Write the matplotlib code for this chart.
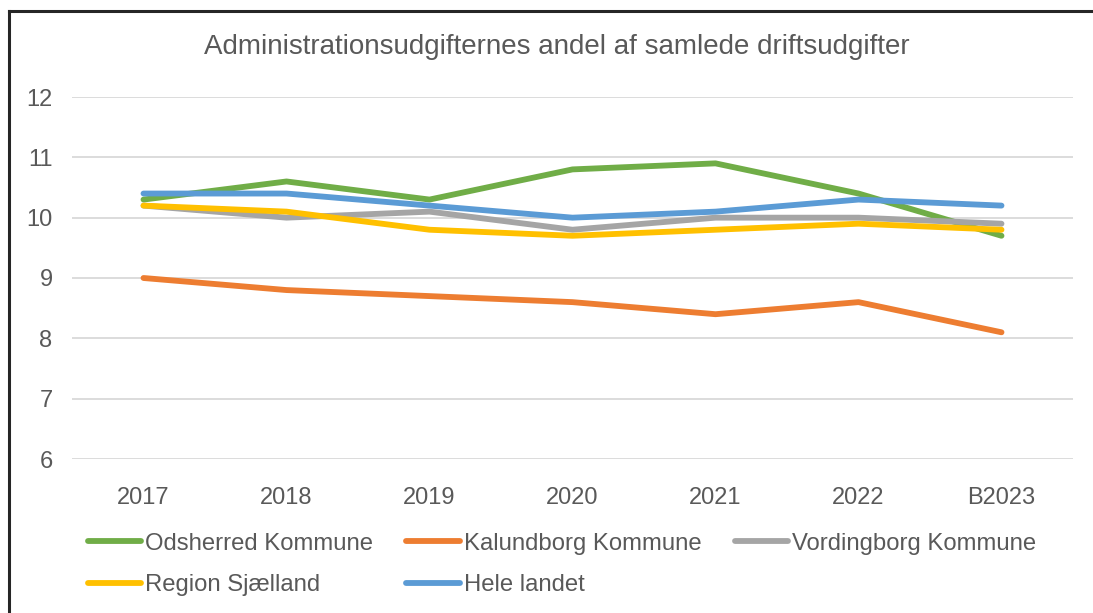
import matplotlib
matplotlib.use("Agg")
import matplotlib.pyplot as plt
from matplotlib.lines import Line2D

plt.rcParams['font.family'] = ['Liberation Sans', 'DejaVu Sans']

years = ["2017", "2018", "2019", "2020", "2021", "2022", "B2023"]
odsherred = [10.3, 10.6, 10.3, 10.8, 10.9, 10.4, 9.7]
kalundborg = [9.0, 8.8, 8.7, 8.6, 8.4, 8.6, 8.1]
vordingborg = [10.2, 10.0, 10.1, 9.8, 10.0, 10.0, 9.9]
region = [10.2, 10.1, 9.8, 9.7, 9.8, 9.9, 9.8]
hele_landet = [10.4, 10.4, 10.2, 10.0, 10.1, 10.3, 10.2]

series = [
    ("Odsherred Kommune", odsherred, "#70AD47"),
    ("Kalundborg Kommune", kalundborg, "#ED7D31"),
    ("Vordingborg Kommune", vordingborg, "#A5A5A5"),
    ("Region Sjælland", region, "#FFC000"),
    ("Hele landet", hele_landet, "#5B9BD5"),
]

W, H = 1093, 613
fig = plt.figure(figsize=(W / 100, H / 100), dpi=100)
ax = fig.add_axes([72 / W, 1 - 459 / H, (1073 - 72) / W, (459 - 97) / H])

text_color = "#595959"
lw = 4.2
x = list(range(len(years)))
for name, vals, col in series:
    ax.plot(x, vals, color=col, lw=lw, solid_capstyle='round',
            solid_joinstyle='round', label=name, zorder=3)

ax.set_xlim(-0.5, len(years) - 0.5)
ax.set_ylim(6, 12)
ax.set_yticks(range(6, 13))
ax.set_xticks(x)
ax.set_xticklabels(years)
ax.grid(axis='y', color="#D9D9D9", lw=1.3, zorder=0)
ax.tick_params(axis='both', length=0, labelsize=17, colors=text_color)
ax.tick_params(axis='x', pad=20)
ax.tick_params(axis='y', pad=14)
for s in ax.spines.values():
    s.set_visible(False)

fig.text(557 / W, 1 - 47 / H, "Administrationsudgifternes andel af samlede driftsudgifter",
         ha='center', va='center', fontsize=20, color=text_color)

# legend laid out row by row: three entries on the first row, two on the second
ncol = 3
order = [0, 3, 1, 4, 2]
handles = [Line2D([0], [0], color=series[i][2], lw=lw, solid_capstyle='round') for i in order]
labels = [series[i][0] for i in order]
leg = fig.legend(handles, labels, ncol=ncol, loc='upper left',
                 bbox_to_anchor=(78 / W, 1 - 523 / H), frameon=False,
                 fontsize=17.2, handlelength=2.25, handletextpad=0.15,
                 columnspacing=1.4, labelspacing=0.82, borderaxespad=0)
for t in leg.get_texts():
    t.set_color(text_color)

# frame around the chart area
fig.add_artist(Line2D([9 / W, 9 / W], [0, 1 - 11 / H], color="#262626", lw=2.2,
                      transform=fig.transFigure))
fig.add_artist(Line2D([9 / W, 1], [1 - 11 / H, 1 - 11 / H], color="#262626", lw=2.2,
                      transform=fig.transFigure))

fig.savefig("out.png", dpi=100, facecolor="white")
